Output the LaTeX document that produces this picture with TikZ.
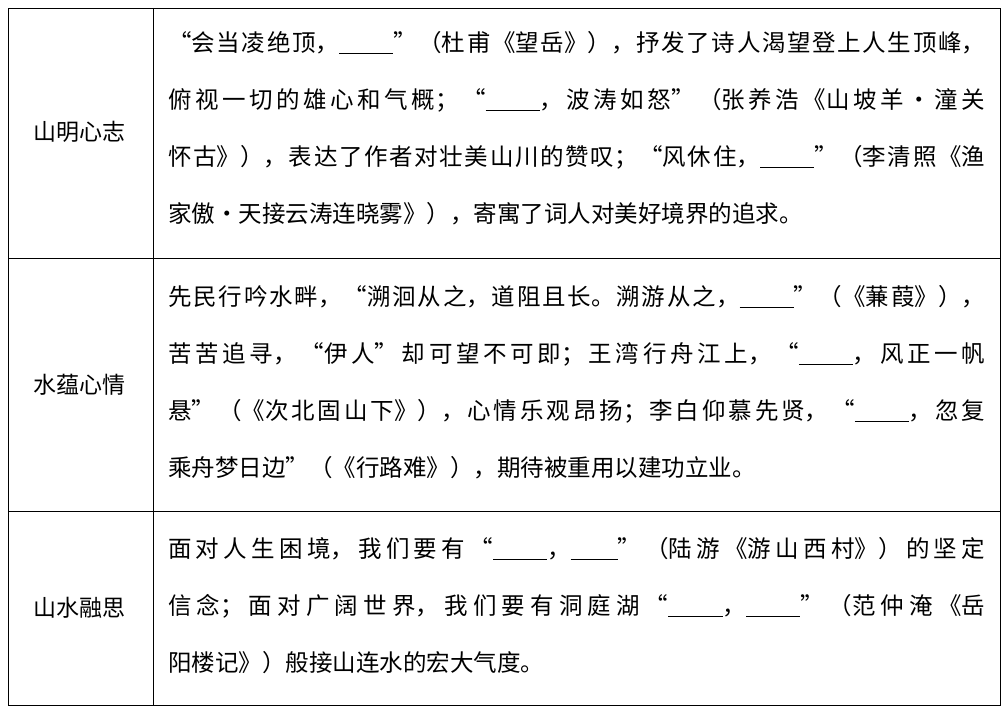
\documentclass[tikz,border=0pt]{standalone}
\usepackage{fontspec}
\setmainfont{Noto Sans CJK SC}
\XeTeXlinebreaklocale "zh"
\XeTeXlinebreakskip=0pt plus 4pt
\newcommand{\blank}{\underline{\hspace{2.3em}}}
\newcommand{\blankb}{\underline{\hspace{2.0em}}}
\tikzset{
  cellText/.style={anchor=north west,inner sep=0pt,text width=817pt,align=justify,
    font=\fontsize{23.5pt}{57pt}\selectfont},
  rowLabel/.style={inner sep=0pt,font=\fontsize{23pt}{26pt}\selectfont},
  rule/.style={line width=0.9pt}
}
\begin{document}
\begin{tikzpicture}[x=1pt,y=-1pt]
\useasboundingbox (0,0) rectangle (1005,709);

% Table grid
\draw[rule] (8,8) rectangle (1000,705);
\draw[rule] (153,8) -- (153,705);
\draw[rule] (8,258) -- (1000,258);
\draw[rule] (8,511) -- (1000,511);

% Left column
\node[rowLabel] (lblA) at (80,132) {山明心志};
\node[rowLabel] (lblB) at (80,385) {水蕴心情};
\node[rowLabel] (lblC) at (80,608) {山水融思};

% Right column
\node[cellText] (txtA) at (168,31) {“会当凌绝顶，\blank”（杜甫《望岳》），抒发了诗人渴望登上人生顶峰，\linebreak
俯视一切的雄心和气概；“\blank，波涛如怒”（张养浩《山坡羊·潼关\linebreak
怀古》），表达了作者对壮美山川的赞叹；“风休住，\blank”（李清照《渔\linebreak
家傲·天接云涛连晓雾》），寄寓了词人对美好境界的追求。};
\node[cellText] (txtB) at (168,285) {先民行吟水畔，“溯洄从之，道阻且长。溯游从之，\blank”（《蒹葭》），\linebreak
苦苦追寻，“伊人”却可望不可即；王湾行舟江上，“\blank，风正一帆\linebreak
悬”（《次北固山下》），心情乐观昂扬；李白仰慕先贤，“\blank，忽复\linebreak
乘舟梦日边”（《行路难》），期待被重用以建功立业。};
\node[cellText] (txtC) at (168,537) {面对人生困境，我们要有“\blank，\blankb”（陆游《游山西村》）的坚定\linebreak
信念；面对广阔世界，我们要有洞庭湖“\blank，\blank”（范仲淹《岳\linebreak
阳楼记》）般接山连水的宏大气度。};
\end{tikzpicture}
\end{document}
